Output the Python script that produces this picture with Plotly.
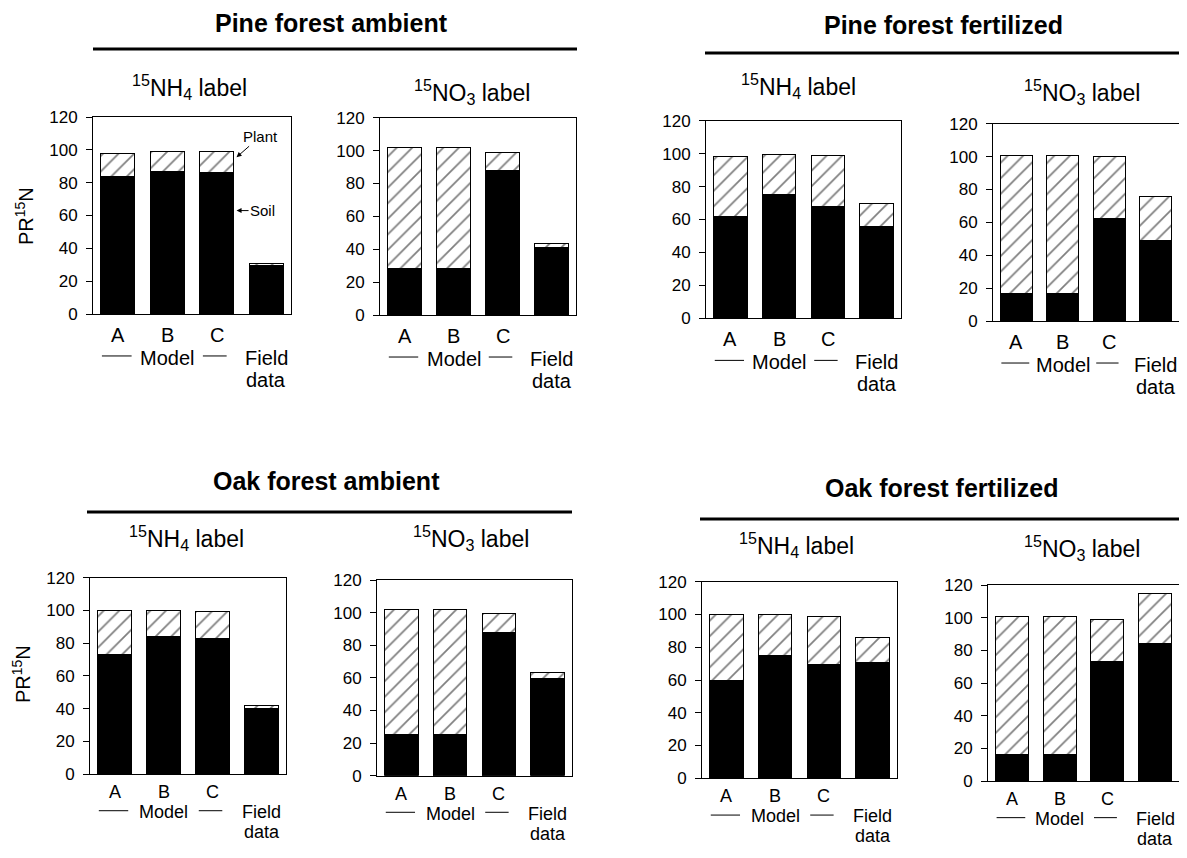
import plotly.graph_objects as go

VW, VH = 1187, 858          # browser window
OFF = 8                     # page body margin of the browser
W, H = VW - 2 * OFF, VH - 2 * OFF   # figure size so the page needs no scrollbars
FONT = "Liberation Sans, Arial, sans-serif"

# ---------------- data ----------------
categories = ["A", "B", "C", "Field data"]
group_titles = ["Pine forest ambient", "Pine forest fertilized",
                "Oak forest ambient", "Oak forest fertilized"]
label_titles = ["<sup>15</sup>NH<sub>4</sub> label", "<sup>15</sup>NO<sub>3</sub> label"]
yticks = [0, 20, 40, 60, 80, 100, 120]

pine_amb_nh4_soil = [84, 87, 86, 29.5]
pine_amb_nh4_plant = [14, 12, 13, 1.5]
pine_amb_no3_soil = [28, 28, 88, 41]
pine_amb_no3_plant = [74, 74, 11, 2.5]
pine_fert_nh4_soil = [62, 75, 68, 56]
pine_fert_nh4_plant = [36.5, 24.5, 31, 13.5]
pine_fert_no3_soil = [17, 17, 62.5, 49]
pine_fert_no3_plant = [83.5, 83.5, 37.5, 26.5]
oak_amb_nh4_soil = [73, 84, 83, 40]
oak_amb_nh4_plant = [27, 16, 16.5, 2]
oak_amb_no3_soil = [25, 25, 88, 59.5]
oak_amb_no3_plant = [77, 77, 11.5, 3.5]
oak_fert_nh4_soil = [60, 75, 69.5, 70.5]
oak_fert_nh4_plant = [40, 25, 29.5, 15.5]
oak_fert_no3_soil = [16, 16, 73, 84]
oak_fert_no3_plant = [84.5, 84.5, 26, 31]

panel_data = [
    (pine_amb_nh4_soil, pine_amb_nh4_plant),
    (pine_amb_no3_soil, pine_amb_no3_plant),
    (pine_fert_nh4_soil, pine_fert_nh4_plant),
    (pine_fert_no3_soil, pine_fert_no3_plant),
    (oak_amb_nh4_soil, oak_amb_nh4_plant),
    (oak_amb_no3_soil, oak_amb_no3_plant),
    (oak_fert_nh4_soil, oak_fert_nh4_plant),
    (oak_fert_no3_soil, oak_fert_no3_plant),
]


def px(x):
    return min(max((x - OFF) / W, 0.0), 1.0)


def py(y):
    return min(max((H - (y - OFF)) / H, 0.0), 1.0)


# ---------------- layout geometry (screen pixels) ----------------
# (left, right, top(=120), bottom(=0))
boxes = [
    (93, 291, 117, 314),
    (380, 576, 117.7, 315),
    (706, 901, 120.7, 318.3),
    (993, 1187, 123.7, 321),
    (90, 286, 577.7, 774),
    (377, 572, 580, 775.7),
    (702, 897, 581.7, 778.3),
    (988, 1185, 585, 781),
]
subtitle_pos = [(189, 87), (472, 92), (798, 86), (1082, 92),
                (186, 538), (471, 538), (796, 545), (1082, 548)]
title_pos = [(331, 23), (943, 25), (326, 481), (941, 488)]
title_lines = [(93, 577, 49), (705, 1187, 53), (87, 572, 512), (700, 1187, 519)]
ytitle_pos = [(24, 216), (21, 674)]
# rows of text under the axes (fraction of panel height): letters, Model/Field, data, dash line, font
under_top = (-0.105, -0.222, -0.335, -0.213, 20)
under_bottom = (-0.092, -0.194, -0.296, -0.187, 18)

xpos = list(range(len(categories)))

fig = go.Figure()
annotations = []
shapes = []

for i, ((soil, plant), (x0, x1, yt, yb)) in enumerate(zip(panel_data, boxes)):
    n = i + 1
    xa = "x" if n == 1 else f"x{n}"
    ya = "y" if n == 1 else f"y{n}"
    fig.add_trace(go.Bar(
        x=xpos, y=soil, width=0.69, xaxis=xa, yaxis=ya,
        marker=dict(color="black", line=dict(color="black", width=1)),
        showlegend=False, hoverinfo="skip"))
    fig.add_trace(go.Bar(
        x=xpos, y=plant, width=0.69, xaxis=xa, yaxis=ya,
        marker=dict(color="white", line=dict(color="black", width=1),
                    pattern=dict(shape="/", fgcolor="black", bgcolor="white",
                                 size=11, solidity=0.16)),
        showlegend=False, hoverinfo="skip"))

    axis_common = dict(showline=True, mirror=True, linecolor="black", linewidth=1,
                       showgrid=False, zeroline=False, automargin=False)
    fig.layout[f"xaxis{'' if n == 1 else n}"] = dict(
        domain=[px(x0), px(x1)], range=[-0.5, 3.5], anchor=ya,
        showticklabels=False, ticks="", fixedrange=True, **axis_common)
    fig.layout[f"yaxis{'' if n == 1 else n}"] = dict(
        domain=[py(yb), py(yt)], range=[0, 120], anchor=xa,
        tickvals=yticks, ticks="outside", ticklen=6, tickcolor="black",
        ticklabelstandoff=5,
        tickfont=dict(family=FONT, size=17, color="black"), **axis_common)

    y_let, y_mod, y_dat, y_line, fs = under_top if i < 4 else under_bottom
    lab_font = dict(family=FONT, size=fs, color="black")
    # category labels below the axis
    for k in range(3):
        annotations.append(dict(x=xpos[k], y=y_let, xref=xa, yref=f"{ya} domain",
                                text=categories[k], showarrow=False,
                                font=lab_font, yanchor="middle"))
    annotations.append(dict(x=1.0, y=y_mod, xref=xa, yref=f"{ya} domain",
                            text="Model", showarrow=False,
                            font=lab_font, yanchor="middle"))
    annotations.append(dict(x=xpos[3], y=y_mod, xref=xa, yref=f"{ya} domain",
                            text="Field", showarrow=False,
                            font=lab_font, yanchor="middle"))
    annotations.append(dict(x=xpos[3], y=y_dat, xref=xa, yref=f"{ya} domain",
                            text="data", showarrow=False,
                            font=lab_font, yanchor="middle"))
    for lx0, lx1 in [(-0.32, 0.28), (1.72, 2.2)]:
        shapes.append(dict(type="line", xref=xa, yref=f"{ya} domain",
                           x0=lx0, x1=lx1, y0=y_line, y1=y_line,
                           line=dict(color="black", width=1)))

    # label subtitle
    sx, sy = subtitle_pos[i]
    annotations.append(dict(x=px(sx), y=py(sy), xref="paper", yref="paper",
                            text=label_titles[i % 2], showarrow=False,
                            font=dict(family=FONT, size=23, color="black"),
                            xanchor="center", yanchor="middle"))

# group titles and rules
for (tx, ty), t, (lx0, lx1, ly) in zip(title_pos, group_titles, title_lines):
    annotations.append(dict(x=px(tx), y=py(ty), xref="paper", yref="paper",
                            text=f"<b>{t}</b>", showarrow=False,
                            font=dict(family=FONT, size=25, color="black"),
                            xanchor="center", yanchor="middle"))
    shapes.append(dict(type="line", xref="paper", yref="paper",
                       x0=px(lx0), x1=px(lx1), y0=py(ly), y1=py(ly),
                       line=dict(color="black", width=3)))

# y-axis titles
for (yx, yy) in ytitle_pos:
    annotations.append(dict(x=px(yx), y=py(yy), xref="paper", yref="paper",
                            text="PR<sup>15</sup>N", showarrow=False, textangle=-90,
                            font=dict(family=FONT, size=20, color="black"),
                            xanchor="center", yanchor="middle"))

# Plant / Soil pointers in first panel
annotations.append(dict(x=2.40, y=95.5, xref="x", yref="y", text="Plant",
                        showarrow=True, arrowhead=2, arrowsize=1, arrowwidth=1,
                        arrowcolor="black", ax=24, ay=-21, standoff=0,
                        font=dict(family=FONT, size=15, color="black")))
annotations.append(dict(x=2.40, y=63, xref="x", yref="y", text="Soil",
                        showarrow=True, arrowhead=2, arrowsize=1, arrowwidth=1,
                        arrowcolor="black", ax=26, ay=0, standoff=0,
                        font=dict(family=FONT, size=15, color="black")))

fig.update_layout(
    width=W, height=H, autosize=False,
    margin=dict(l=0, r=0, t=0, b=0, pad=0, autoexpand=False),
    barmode="stack", showlegend=False,
    paper_bgcolor="white", plot_bgcolor="white",
    annotations=annotations, shapes=shapes,
    font=dict(family=FONT, color="black"),
)

fig.write_html("out.html")
